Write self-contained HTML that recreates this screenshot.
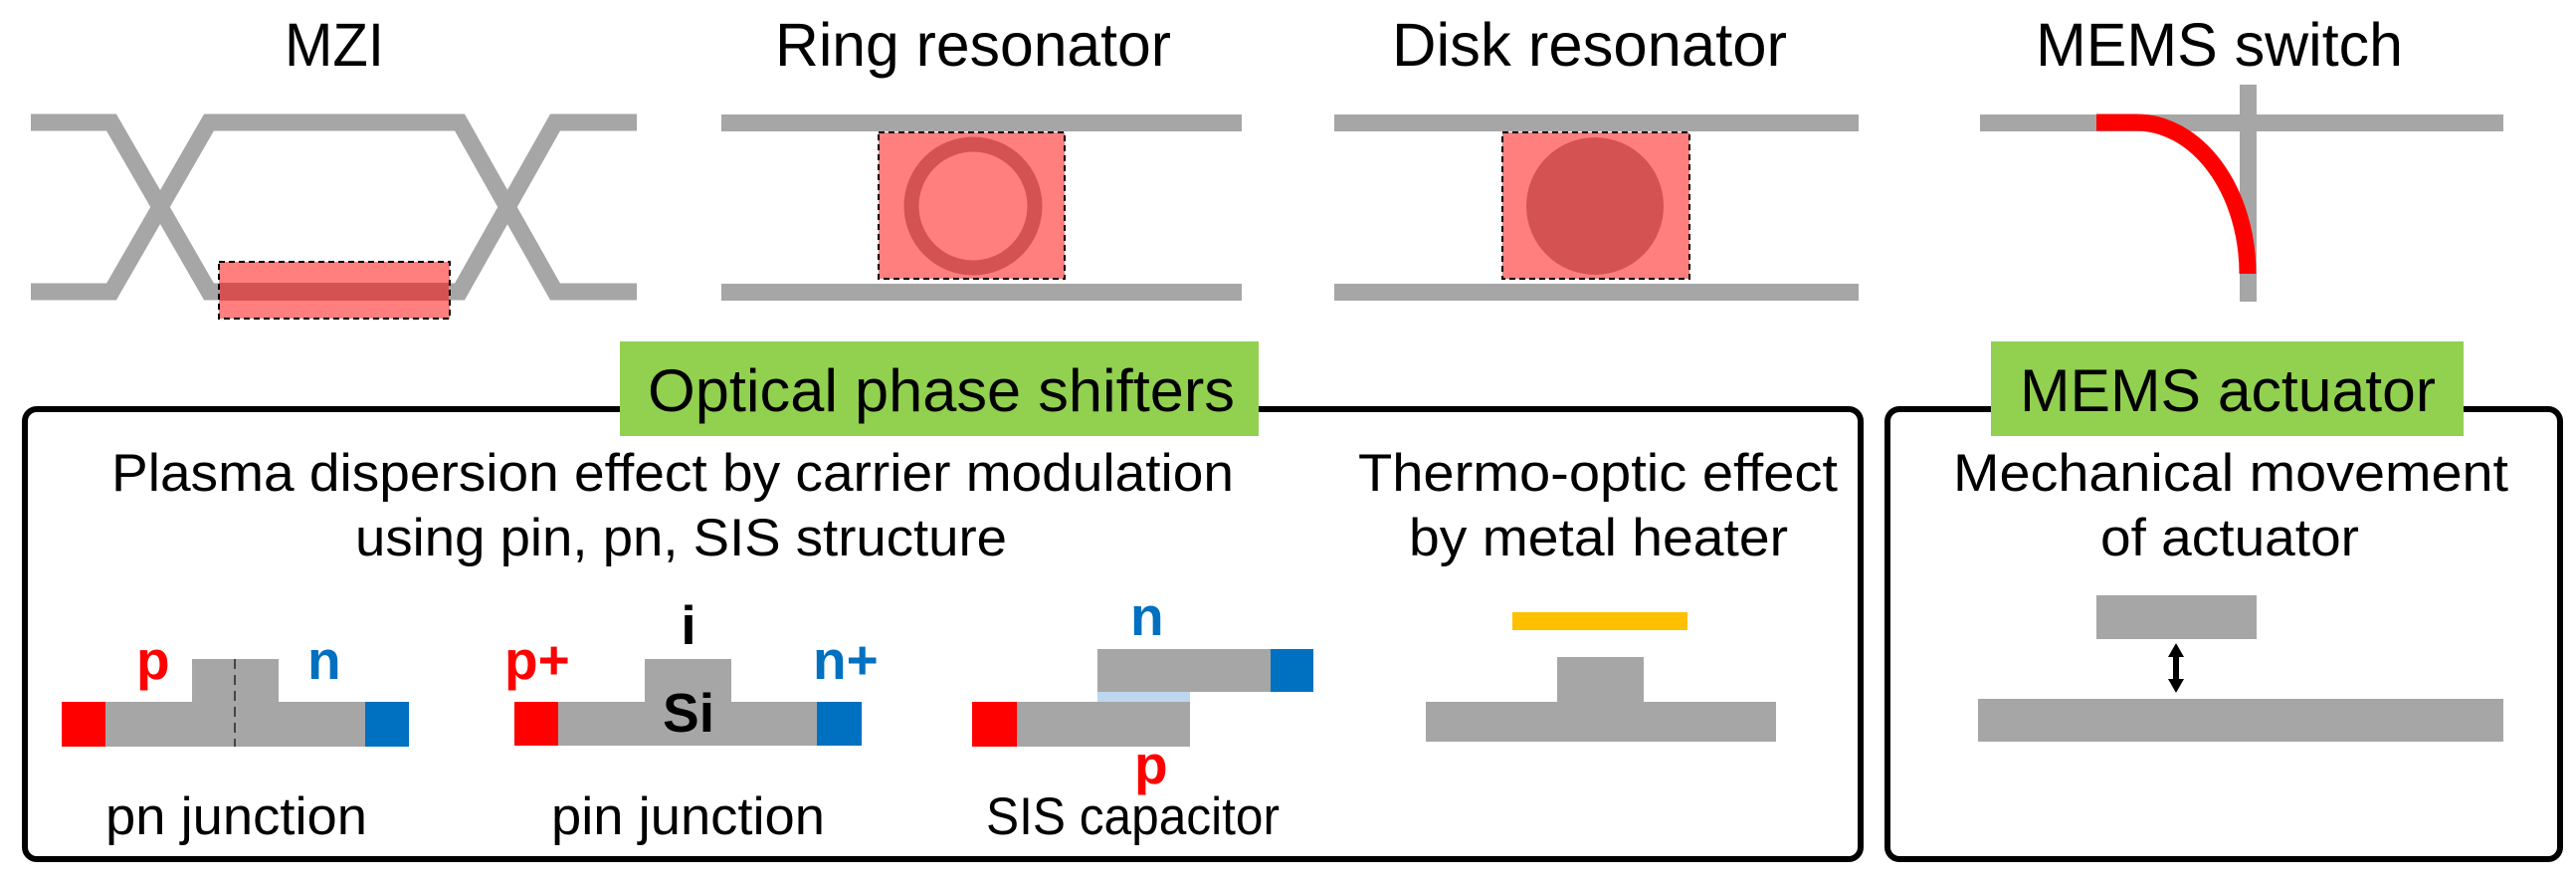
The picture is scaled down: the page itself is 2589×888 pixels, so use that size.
<!DOCTYPE html>
<html><head><meta charset="utf-8"><style>html,body{margin:0;padding:0;background:#fff}svg{display:block}</style></head>
<body>
<svg width="2589" height="888" viewBox="0 0 2589 888" xmlns="http://www.w3.org/2000/svg" font-family="Liberation Sans, Arial, sans-serif">
<!-- titles -->
<g font-size="61" fill="#000">
<text x="286" y="66" textLength="100" lengthAdjust="spacingAndGlyphs">MZI</text>
<text x="779" y="66" textLength="398" lengthAdjust="spacingAndGlyphs">Ring resonator</text>
<text x="1399" y="66" textLength="397" lengthAdjust="spacingAndGlyphs">Disk resonator</text>
<text x="2046" y="66" textLength="369" lengthAdjust="spacingAndGlyphs">MEMS switch</text>
</g>
<!-- MZI -->
<g stroke="#a6a6a6" stroke-width="17" fill="none" stroke-linejoin="miter">
<polyline points="31,123 112,123 210,293 462,293 558,123 640,123"/>
<polyline points="31,293 112,293 210,123 462,123 558,293 640,293"/>
</g>
<rect x="220" y="263" width="232" height="57" fill="#ff7f7f" stroke="#000" stroke-width="2" stroke-dasharray="6,4"/>
<rect x="221" y="284" width="230" height="18" fill="#d45252"/>
<!-- Ring -->
<rect x="725" y="115" width="523" height="17" fill="#a6a6a6"/>
<rect x="725" y="285" width="523" height="17" fill="#a6a6a6"/>
<rect x="883" y="133" width="187" height="147" fill="#ff7f7f" stroke="#000" stroke-width="2" stroke-dasharray="6,4"/>
<circle cx="978" cy="207" r="62" fill="none" stroke="#d45252" stroke-width="15"/>
<!-- Disk -->
<rect x="1341" y="115" width="527" height="17" fill="#a6a6a6"/>
<rect x="1341" y="285" width="527" height="17" fill="#a6a6a6"/>
<rect x="1510" y="133" width="188" height="147" fill="#ff7f7f" stroke="#000" stroke-width="2" stroke-dasharray="6,4"/>
<circle cx="1603" cy="207" r="69" fill="#d45252"/>
<!-- MEMS switch -->
<rect x="1990" y="115" width="526" height="17" fill="#a6a6a6"/>
<rect x="2251" y="85" width="17" height="218" fill="#a6a6a6"/>
<path d="M2107 123 L2147 123 A112 152 0 0 1 2259 275" fill="none" stroke="#ff0000" stroke-width="17"/>
<!-- boxes -->
<rect x="25" y="411" width="1845" height="452" rx="12" fill="none" stroke="#000" stroke-width="6"/>
<rect x="1897" y="411" width="676" height="452" rx="12" fill="none" stroke="#000" stroke-width="6"/>
<rect x="623" y="343" width="642" height="95" fill="#92d050"/>
<rect x="2001" y="343" width="475" height="95" fill="#92d050"/>
<g font-size="60" fill="#000">
<text x="651" y="413" textLength="590" lengthAdjust="spacingAndGlyphs">Optical phase shifters</text>
<text x="2030" y="413" textLength="418" lengthAdjust="spacingAndGlyphs">MEMS actuator</text>
</g>
<g font-size="53" fill="#000">
<text x="112" y="493" textLength="1128" lengthAdjust="spacingAndGlyphs">Plasma dispersion effect by carrier modulation</text>
<text x="357" y="558" textLength="655" lengthAdjust="spacingAndGlyphs">using pin, pn, SIS structure</text>
<text x="1365" y="493" textLength="482" lengthAdjust="spacingAndGlyphs">Thermo-optic effect</text>
<text x="1416" y="558" textLength="381" lengthAdjust="spacingAndGlyphs">by metal heater</text>
<text x="1963" y="493" textLength="558" lengthAdjust="spacingAndGlyphs">Mechanical movement</text>
<text x="2111" y="558" textLength="260" lengthAdjust="spacingAndGlyphs">of actuator</text>
<text x="106" y="838" textLength="263" lengthAdjust="spacingAndGlyphs">pn junction</text>
<text x="554" y="838" textLength="275" lengthAdjust="spacingAndGlyphs">pin junction</text>
<text x="991" y="838" textLength="295" lengthAdjust="spacingAndGlyphs">SIS capacitor</text>
</g>
<!-- pn junction -->
<rect x="193" y="662" width="87" height="44" fill="#a6a6a6"/>
<rect x="106" y="705" width="261" height="45" fill="#a6a6a6"/>
<rect x="62" y="705" width="44" height="45" fill="#ff0000"/>
<rect x="367" y="705" width="44" height="45" fill="#0070c0"/>
<line x1="236" y1="662" x2="236" y2="750" stroke="#444" stroke-width="2" stroke-dasharray="10,6"/>
<!-- pin -->
<rect x="648" y="662" width="87" height="44" fill="#a6a6a6"/>
<rect x="561" y="705" width="260" height="44" fill="#a6a6a6"/>
<rect x="517" y="705" width="44" height="44" fill="#ff0000"/>
<rect x="821" y="705" width="45" height="44" fill="#0070c0"/>
<!-- SIS -->
<rect x="1022" y="705" width="174" height="45" fill="#a6a6a6"/>
<rect x="977" y="705" width="45" height="45" fill="#ff0000"/>
<rect x="1103" y="652" width="174" height="43" fill="#a6a6a6"/>
<rect x="1277" y="652" width="43" height="43" fill="#0070c0"/>
<rect x="1103" y="695" width="93" height="10" fill="#bdd7ee"/>
<!-- thermo -->
<rect x="1520" y="615" width="176" height="18" fill="#ffc000"/>
<rect x="1565" y="660" width="87" height="45" fill="#a6a6a6"/>
<rect x="1433" y="705" width="352" height="40" fill="#a6a6a6"/>
<!-- MEMS actuator -->
<rect x="2107" y="598" width="161" height="44" fill="#a6a6a6"/>
<rect x="1988" y="702" width="528" height="43" fill="#a6a6a6"/>
<line x1="2187" y1="655" x2="2187" y2="687" stroke="#000" stroke-width="6"/>
<polygon points="2187,646 2179,660 2195,660" fill="#000"/>
<polygon points="2187,696 2179,682 2195,682" fill="#000"/>
<!-- labels -->
<g font-size="55" font-weight="bold">
<text x="137" y="682" fill="#ff0000">p</text>
<text x="309" y="682" fill="#0070c0">n</text>
<text x="507" y="682" fill="#ff0000">p+</text>
<text x="817" y="682" fill="#0070c0">n+</text>
<text x="692" y="647" fill="#000" text-anchor="middle">i</text>
<text x="692" y="735" fill="#000" text-anchor="middle">Si</text>
<text x="1136" y="638" fill="#0070c0">n</text>
<text x="1140" y="787" fill="#ff0000">p</text>
</g>
</svg>
</body></html>
